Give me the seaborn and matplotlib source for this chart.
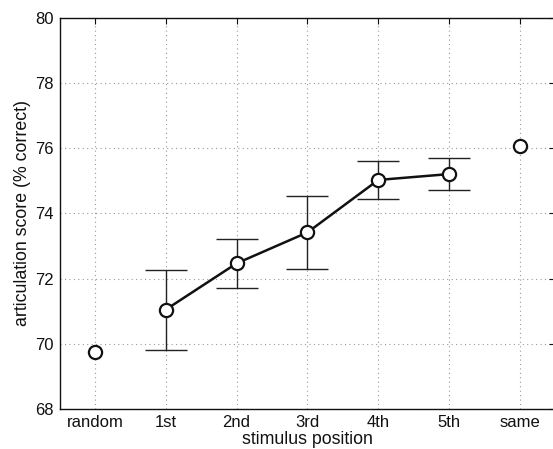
import matplotlib
matplotlib.use("Agg")
import matplotlib.pyplot as plt
import seaborn as sns
import pandas as pd

# Tick labels for stimulus position
positions = ["random", "1st", "2nd", "3rd", "4th", "5th", "same"]

# Scores for the serial positions (joined by a line, with error bars)
serial_labels = ["1st", "2nd", "3rd", "4th", "5th"]
serial_scores = [71.05, 72.47, 73.42, 75.03, 75.21]
serial_err = [1.23, 0.75, 1.12, 0.58, 0.50]

# Reference conditions (isolated points)
ref_labels = ["random", "same"]
ref_scores = [69.76, 76.06]

sns.set_theme(style="white")
plt.rcParams["font.family"] = ["Liberation Sans", "DejaVu Sans"]

pos_index = {p: i + 1 for i, p in enumerate(positions)}
serial = pd.DataFrame({"x": [pos_index[p] for p in serial_labels], "score": serial_scores})
refs = pd.DataFrame({"x": [pos_index[p] for p in ref_labels], "score": ref_scores})

fig = plt.figure(figsize=(5.53, 4.49), dpi=100)
ax = fig.add_axes([0.1076, 0.0891, 0.8968, 0.8708])

ax.errorbar(serial["x"], serial["score"], yerr=serial_err, fmt="none",
            ecolor="#222222", elinewidth=1.0, capsize=15, capthick=1.0, zorder=2)
sns.lineplot(data=serial, x="x", y="score", ax=ax, color="#111111", linewidth=1.8,
             marker="o", markersize=9.5, markerfacecolor="white",
             markeredgecolor="#111111", markeredgewidth=1.6, zorder=3)
sns.scatterplot(data=refs, x="x", y="score", ax=ax, s=90, color="white",
                edgecolor="#111111", linewidth=1.6, zorder=3)

ax.set_xlim(0.5, 7.5)
ax.set_ylim(68, 80)
ax.set_xticks(range(1, len(positions) + 1))
ax.set_xticklabels(positions)
ax.set_yticks(range(68, 81, 2))

ax.grid(True, linestyle=(0, (1, 3)), color="#999999", linewidth=0.8)
for side in ["top", "right", "bottom", "left"]:
    ax.spines[side].set_visible(True)
    ax.spines[side].set_color("#111111")
    ax.spines[side].set_linewidth(1.0)
ax.tick_params(direction="in", length=4, width=0.8, color="#111111",
               top=True, right=True, labelsize=12, pad=4, labelcolor="#111111")

ax.set_xlabel("stimulus position", fontsize=12.8, labelpad=1, color="#111111")
ax.set_ylabel("articulation score (% correct)", fontsize=12.8, labelpad=3, color="#111111")

fig.savefig("out.png", dpi=100)
